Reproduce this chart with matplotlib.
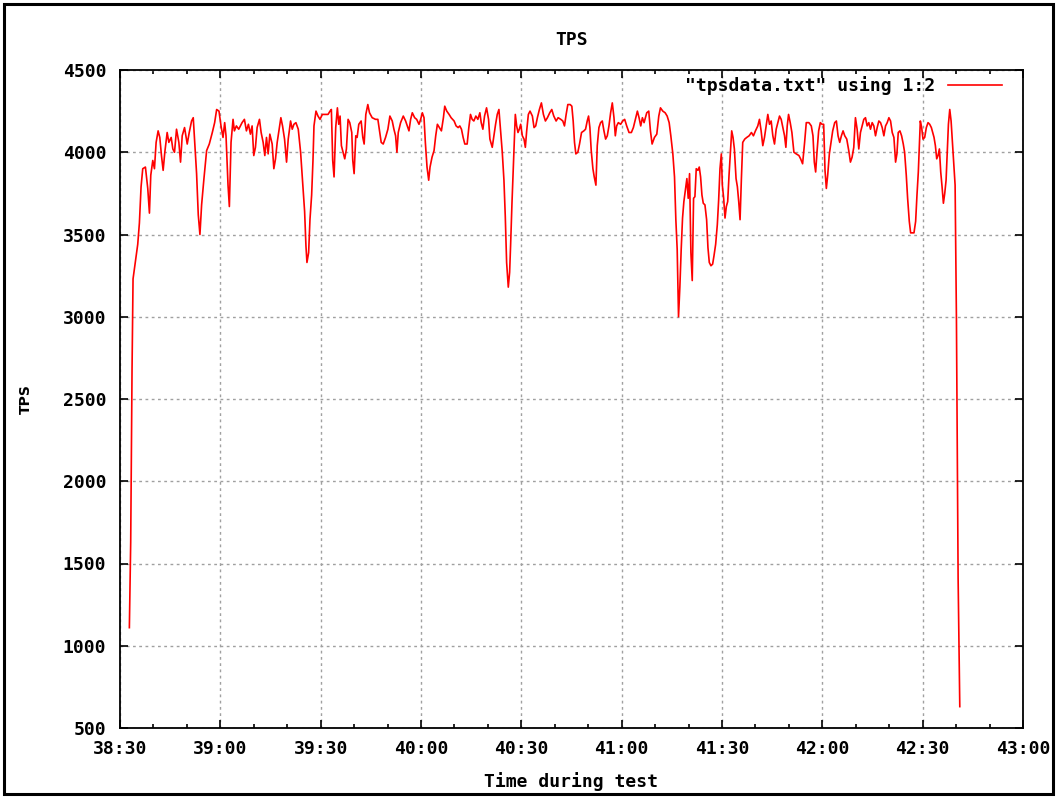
import matplotlib
matplotlib.use("Agg")
import matplotlib.pyplot as plt
from matplotlib.ticker import MultipleLocator, FuncFormatter
from matplotlib.patches import Rectangle

# test started logging at 38:30 (mm:ss), samples are seconds after that
start = 38 * 60 + 30

secs = [
    2.8, 3.2, 3.6, 3.9, 4.3, 4.8, 5.3, 5.8, 6.3, 6.8, 7.6, 8.3, 8.8, 9.2, 9.8,
    10.3, 10.8, 11.4, 11.9, 12.4, 12.9, 13.4, 14.1, 14.6, 15.3, 15.8, 16.3, 16.9,
    17.6, 18.1, 18.6, 19.3, 20.1, 20.7, 21.4, 21.9, 22.4, 22.9, 23.4, 23.9, 24.4,
    25.1, 25.9, 26.7, 27.6, 28.3, 28.9, 29.6, 30.2, 30.8, 31.3, 31.7, 32.3, 32.7,
    33.2, 33.8, 34.2, 34.8, 35.5, 36.5, 37.2, 37.8, 38.4, 39.0, 39.5, 40.0, 40.5,
    41.0, 41.7, 42.2, 42.8, 43.3, 43.8, 44.3, 44.8, 45.5, 46.0, 46.5, 47.0, 47.5,
    48.1, 48.6, 49.2, 49.8, 50.3, 51.0, 51.5, 52.0, 52.6, 53.3, 54.0, 54.6, 55.2,
    55.6, 55.9, 56.4, 56.8, 57.3, 57.7, 58.0, 58.6, 59.2, 59.8, 60.5, 61.5, 62.2,
    62.8, 63.2, 63.6, 64.0, 64.5, 65.0, 65.4, 65.8, 66.2, 66.7, 67.2, 67.7, 68.2,
    68.7, 69.3, 69.6, 70.0, 70.5, 70.9, 71.4, 72.1, 72.6, 73.0, 73.5, 74.1, 74.6,
    75.4, 76.4, 77.1, 77.6, 78.1, 78.7, 79.4, 80.1, 80.7, 81.4, 81.9, 82.4, 82.8,
    83.2, 83.9, 84.7, 85.4, 85.9, 86.4, 86.9, 87.4, 88.1, 88.7, 89.4, 89.9, 90.4,
    90.9, 91.3, 91.8, 92.3, 92.7, 93.3, 93.9, 94.4, 94.9, 95.5, 96.1, 96.7, 97.1,
    97.7, 98.4, 99.0, 99.9, 100.5, 101.1, 101.6, 102.1, 102.6, 103.1, 103.8, 104.3,
    104.8, 105.3, 105.8, 106.4, 107.0, 107.6, 108.0, 108.5, 109.0, 109.6, 110.2,
    110.6, 111.3, 111.8, 112.3, 112.8, 113.3, 113.8, 114.3, 114.8, 115.2, 115.6,
    116.1, 116.5, 116.8, 117.2, 117.6, 117.9, 118.2, 118.6, 119.0, 119.4, 119.8,
    120.3, 120.8, 121.2, 121.6, 122.1, 122.6, 123.3, 123.8, 124.3, 124.8, 125.4,
    126.0, 126.6, 127.2, 127.8, 128.5, 129.1, 129.7, 130.4, 131.0, 131.8, 132.4,
    132.9, 133.4, 133.9, 134.6, 135.1, 135.5, 135.9, 136.3, 136.9, 137.4, 138.0,
    138.7, 139.2, 139.7, 140.1, 140.5, 140.9, 141.4, 141.8, 142.3, 142.7, 143.2,
    143.7, 144.2, 144.7, 145.2, 145.7, 146.2, 146.7, 147.2, 147.7, 148.1, 148.5,
    149.0, 149.7, 150.3, 150.9, 151.5, 152.2, 152.9, 153.5, 154.1, 154.7, 155.2,
    155.7, 156.2, 156.7, 157.5, 158.1, 158.6, 159.1, 159.8, 160.5, 161.1, 161.6,
    162.3, 163.0, 163.6, 164.2, 164.7, 165.3, 165.8, 166.2, 166.6, 167.0, 167.4,
    167.8, 168.2, 168.6, 169.1, 169.5, 169.9, 170.3, 170.7, 171.1, 171.5, 171.9,
    172.3, 172.8, 173.2, 173.6, 174.0, 174.4, 174.9, 175.4, 175.8, 176.2, 176.7,
    177.2, 177.6, 178.1, 178.6, 179.0, 179.4, 179.8, 180.1, 180.5, 180.9, 181.3,
    181.7, 182.1, 182.5, 182.9, 183.3, 183.7, 184.2, 184.6, 185.0, 185.4, 185.8,
    186.2, 186.8, 187.4, 188.1, 188.8, 189.4, 190.0, 190.7, 191.2, 191.7, 192.2,
    192.7, 193.2, 193.7, 194.2, 194.7, 195.2, 195.7, 196.2, 196.7, 197.2, 197.7,
    198.2, 198.7, 199.1, 199.5, 199.9, 200.4, 200.9, 201.5, 202.2, 203.0, 203.5,
    204.1, 204.7, 205.2, 206.0, 206.7, 207.2, 207.6, 208.0, 208.4, 208.9, 209.4,
    209.9, 210.4, 210.8, 211.2, 211.6, 212.1, 212.6, 213.1, 213.7, 214.2, 214.7,
    215.2, 215.7, 216.2, 216.7, 217.3, 217.9, 218.4, 218.9, 219.4, 219.9, 220.4,
    220.9, 221.4, 221.9, 222.4, 222.9, 223.4, 223.9, 224.4, 224.9, 225.4, 225.9,
    226.4, 226.9, 227.4, 227.9, 228.4, 228.9, 229.4, 229.9, 230.4, 230.9, 231.4,
    231.9, 232.3, 232.7, 233.2, 233.7, 234.2, 234.6, 235.1, 235.5, 236.0, 236.4,
    236.9, 237.4, 237.9, 238.3, 238.7, 239.0, 239.3, 239.7, 240.1, 240.6, 241.1,
    241.6, 242.1, 242.6, 243.0, 243.4, 243.8, 244.2, 244.6, 245.0, 245.4, 245.8,
    246.2, 246.6, 247.0, 247.3, 247.7, 248.1, 248.5, 248.9, 249.3, 249.7, 250.1,
    250.6, 251.1,
]

tps = [
    1110, 1630, 2680, 3230, 3290, 3360, 3440, 3570, 3790, 3900, 3910, 3780, 3630, 3860, 3950,
    3900, 4060, 4130, 4090, 3980, 3890, 4000, 4120, 4060, 4090, 4020, 4000, 4140,
    4060, 3940, 4100, 4150, 4050, 4120, 4190, 4210, 4040, 3870, 3620, 3500, 3680,
    3840, 4010, 4050, 4120, 4180, 4260, 4250, 4160, 4090, 4180, 4100, 3800, 3670,
    4060, 4200, 4130, 4160, 4140, 4180, 4200, 4130, 4170, 4110, 4160, 3980, 4030,
    4150, 4200, 4120, 4060, 3980, 4090, 3990, 4110, 4050, 3900, 3960, 4060, 4130,
    4210, 4160, 4080, 3940, 4080, 4190, 4140, 4170, 4180, 4140, 4000, 3820, 3640,
    3430, 3330, 3390, 3590, 3740, 3950, 4160, 4250, 4220, 4200, 4230, 4230, 4230,
    4250, 4260, 3950, 3850, 4150, 4270, 4170, 4220, 4040, 4000, 3960, 4020, 4200,
    4180, 4120, 3950, 3870, 4100, 4090, 4170, 4190, 4090, 4050, 4230, 4290, 4240,
    4210, 4200, 4200, 4130, 4060, 4050, 4090, 4140, 4220, 4190, 4140, 4100, 4000,
    4120, 4180, 4220, 4190, 4160, 4130, 4200, 4240, 4210, 4200, 4170, 4200, 4240,
    4210, 4060, 3910, 3830, 3910, 3970, 4010, 4100, 4170, 4150, 4130, 4210, 4280,
    4250, 4230, 4210, 4190, 4160, 4150, 4160, 4140, 4090, 4050, 4050, 4150,
    4230, 4200, 4190, 4220, 4200, 4240, 4180, 4140, 4220, 4270, 4200,
    4080, 4030, 4100, 4170, 4230, 4260, 4130, 4000, 3830, 3610, 3330,
    3180, 3270, 3440, 3690, 3900, 4050, 4230, 4160, 4120, 4140, 4170,
    4100, 4080, 4030, 4130, 4230, 4250, 4220, 4150, 4160, 4210, 4260,
    4300, 4230, 4190, 4210, 4240, 4260, 4220, 4190, 4210, 4200, 4190,
    4160, 4230, 4290, 4290, 4280, 4190, 4060, 3990, 4000, 4050, 4120,
    4130, 4140, 4190, 4220, 4150, 4010, 3900, 3850, 3800, 4040, 4150,
    4180, 4190, 4130, 4080, 4100, 4160, 4240, 4300, 4210, 4100, 4160,
    4180, 4170, 4190, 4200, 4160, 4120, 4120, 4150, 4200, 4250, 4210,
    4160, 4210, 4180, 4240, 4250, 4130, 4050, 4090, 4110, 4220, 4270,
    4250, 4240, 4220, 4180, 4100, 3990, 3850, 3590, 3410, 3000, 3180,
    3410, 3600, 3700, 3780, 3840, 3720, 3870, 3390, 3220, 3720, 3730,
    3900, 3890, 3910, 3850, 3740, 3690, 3680, 3590, 3420, 3330, 3310,
    3320, 3370, 3440, 3560, 3710, 3900, 3990, 3800, 3720, 3600, 3670,
    3700, 3860, 4000, 4130, 4090, 4020, 3840, 3790, 3700, 3590, 3840,
    4060, 4080, 4090, 4100, 4120, 4100, 4130, 4160, 4200, 4130, 4040,
    4090, 4160, 4230, 4170, 4190, 4100, 4050, 4140, 4180, 4220, 4200,
    4150, 4100, 4030, 4160, 4230, 4180, 4120, 4000, 3990, 3980, 3960,
    3930, 4060, 4180, 4180, 4160, 4100, 3940, 3880, 4000, 4130, 4180,
    4170, 4170, 3890, 3780, 3860, 3990, 4060, 4130, 4180, 4190, 4100,
    4060, 4100, 4130, 4100, 4080, 4010, 3940, 3970, 4030, 4210, 4140,
    4020, 4120, 4160, 4200, 4210, 4160, 4180, 4140, 4180, 4160, 4100,
    4150, 4190, 4180, 4150, 4100, 4160, 4180, 4210, 4190, 4120, 4090,
    3940, 3990, 4120, 4130, 4100, 4050, 4000, 3860, 3720, 3580, 3510,
    3510, 3510, 3580, 3740, 3880, 4040, 4190, 4150, 4080, 4090, 4150,
    4180, 4170, 4150, 4120, 4090, 4040, 3960, 3980, 4020, 3880, 3790,
    3690, 3750, 3830, 3970, 4170, 4260, 4190, 4060, 3920, 3800, 2980,
    1410, 630,
]

x_ticks_step = 30
y_ticks = [500, 1000, 1500, 2000, 2500, 3000, 3500, 4000, 4500]

font = {"family": "DejaVu Sans Mono", "weight": "bold", "size": 13}

fig = plt.figure(figsize=(10.59, 7.97), dpi=100)
ax = fig.add_axes([120 / 1059, 1 - 728 / 797, 903 / 1059, 658 / 797])

times = [start + s for s in secs]
ax.plot(times, tps, color="#ff0000", lw=1.2, label='"tpsdata.txt" using 1:2')

ax.set_xlim(start, start + 270)
ax.set_ylim(500, 4500)
ax.xaxis.set_major_locator(MultipleLocator(x_ticks_step))
ax.xaxis.set_minor_locator(MultipleLocator(10))
ax.set_yticks(y_ticks)
ax.xaxis.set_major_formatter(FuncFormatter(lambda v, p: f"{int(v) // 60}:{int(v) % 60:02d}"))

ax.tick_params(which="both", direction="in", top=True, right=True, width=1.2)
ax.tick_params(which="major", length=6)
ax.tick_params(which="minor", length=3)
ax.tick_params(axis="x", pad=9)
ax.tick_params(axis="y", pad=10)
for lab in ax.get_xticklabels() + ax.get_yticklabels():
    lab.set_fontproperties(font)
for sp in ax.spines.values():
    sp.set_linewidth(1.3)

ax.grid(True, which="major", color="#a0a0a0", lw=1.0, linestyle=(0, (2, 2.5)))

ax.set_title("TPS", fontdict=font, pad=18)
ax.set_xlabel("Time during test", fontdict=font, labelpad=10)
ax.set_ylabel("TPS", family="DejaVu Sans", weight="bold", size=10)
ax.yaxis.set_label_coords(-87 / 903, 0.5)

leg = ax.legend(loc="upper right", frameon=False, markerfirst=False,
                prop=font, handlelength=3.0, handletextpad=0.7,
                borderaxespad=0, borderpad=0,
                bbox_to_anchor=((1002 - 120) / 903, 1 - 6 / 658))

# border around the whole picture
fig.patches.append(Rectangle((4 / 1059, 3 / 797), 1049 / 1059, 790 / 797,
                             transform=fig.transFigure, fill=False,
                             edgecolor="black", lw=2.2))

fig.savefig("out.png", dpi=100)
